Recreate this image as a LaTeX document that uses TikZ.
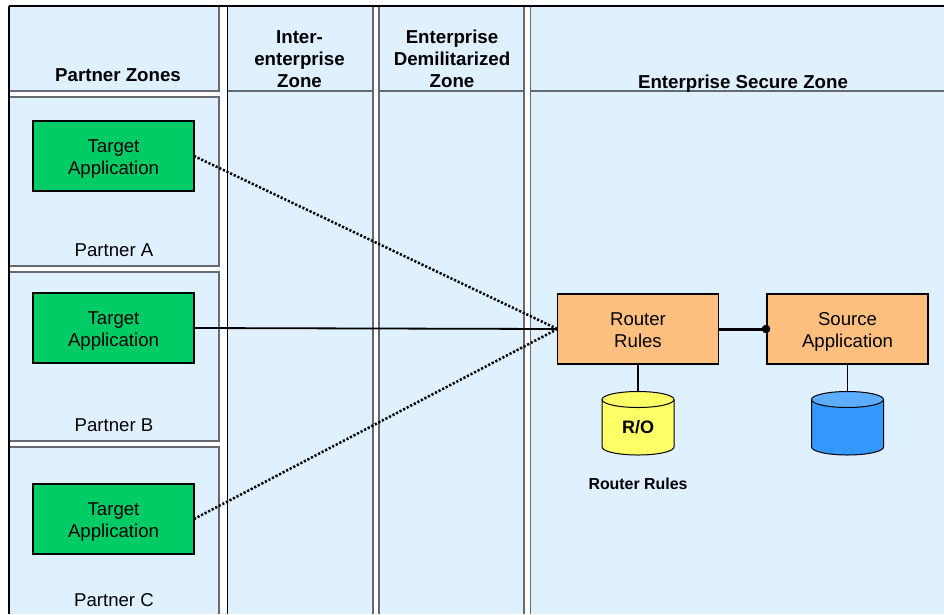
\documentclass[tikz,border=0pt]{standalone}
\usepackage{fontspec}
\setmainfont{Liberation Sans}
\definecolor{zonefill}{HTML}{DFF0FF}
\definecolor{greenbox}{HTML}{00CC66}
\definecolor{orangebox}{HTML}{FFBF7F}
\definecolor{yellowdb}{HTML}{FFFF66}
\definecolor{bluedb}{HTML}{3399FF}
\definecolor{bluetop}{HTML}{5CADFF}
\definecolor{edgegrey}{HTML}{666A70}
\newcommand{\dbdrum}[3]{%
  \fill[#2] (#1-36,399.5) -- (#1-36,447) arc[start angle=180,end angle=0,x radius=36,y radius=8] -- (#1+36,399.5) -- cycle;
  \draw[drumedge] (#1-36,399.5) -- (#1-36,447) arc[start angle=180,end angle=0,x radius=36,y radius=8] -- (#1+36,399.5);
  \draw[drumedge,fill=#3] (#1,399.5) ellipse[x radius=36,y radius=8];
}
\newcommand{\twolines}[2]{\rule{0pt}{19pt}#1\\#2\rule[-5pt]{0pt}{5pt}}
\tikzset{
  x=1pt,y=-1pt,
  zone/.style={fill=zonefill,draw=none},
  blackedge/.style={draw=black,line width=1.3pt},
  greyedge/.style={draw=edgegrey,line width=1.4pt},
  appbox/.style={draw=black,line width=1.9pt,minimum width=161pt,minimum height=70pt,align=center,font=\fontsize{18.6}{22}\selectfont,inner sep=0pt,outer sep=0pt},
  greenapp/.style={appbox,fill=greenbox},
  orangeapp/.style={appbox,fill=orangebox},
  heading/.style={font=\fontsize{18.7}{22}\selectfont\bfseries,align=center,inner sep=0pt},
  partner/.style={font=\fontsize{18.6}{22}\selectfont,inner sep=0pt},
  drumedge/.style={draw=black,line width=1pt},
  dbase/.style={minimum width=72pt,minimum height=64pt,inner sep=0pt,outer sep=0pt},
  link/.style={draw=black,line width=1.8pt},
  dottedlink/.style={draw=black,line width=2.5pt,dash pattern=on 2.2pt off 1.8pt},
}
\begin{document}
\begin{tikzpicture}
\useasboundingbox (0,0) rectangle (944,614);
\clip (0,0) rectangle (944,614);
% zone panels
\fill[zone] (9,6) rectangle (219,91);
\fill[zone] (9,97) rectangle (219,266);
\fill[zone] (9,272) rectangle (219,441);
\fill[zone] (9,447) rectangle (219,614);
\fill[zone] (227.5,6) rectangle (373,614);
\fill[zone] (379,6) rectangle (524,614);
\fill[zone] (530.5,6) rectangle (944,614);
% panel edges
\draw[greyedge] (9,91) -- (219,91) -- (219,6);
\draw[greyedge] (9,97) -- (219,97) -- (219,266) -- (9,266);
\draw[greyedge] (9,272) -- (219,272) -- (219,441) -- (9,441);
\draw[greyedge] (9,447) -- (219,447) -- (219,614);
\draw[greyedge] (373,6) -- (373,614);
\draw[greyedge] (379,6) -- (379,614);
\draw[greyedge] (524,6) -- (524,614);
\draw[greyedge] (530.5,6) -- (530.5,614);
\draw[greyedge,line width=1.1pt] (227.5,91) -- (373,91);
\draw[greyedge,line width=1.1pt] (379,91) -- (524,91);
\draw[greyedge,line width=1.1pt] (530.5,91) -- (944,91);
\draw[blackedge] (9,6) -- (944,6);
\draw[blackedge] (9,6) -- (9,614);
\draw[blackedge] (227.5,6) -- (227.5,614);
% headings
\node[heading] (hp) at (118,75) {Partner Zones};
\node[heading] (hi) at (299.5,59) {Inter-\\enterprise\\Zone};
\node[heading] (hd) at (452,59) {Enterprise\\Demilitarized\\Zone};
\node[heading] (hs) at (743,84) {Enterprise Secure Zone};
% partner labels
\node[partner] (pa) at (114,250.5) {Partner A};
\node[partner] (pb) at (114,425.5) {Partner B};
\node[partner] (pc) at (114,600.5) {Partner C};
% applications
\node[greenapp] (ta) at (113.5,156) {\twolines{Target}{Application}};
\node[greenapp] (tb) at (113.5,328) {\twolines{Target}{Application}};
\node[greenapp] (tc) at (113.5,519) {\twolines{Target}{Application}};
\node[orangeapp] (rr) at (638,329) {\twolines{Router}{Rules}};
\node[orangeapp] (sa) at (847.5,329) {\twolines{Source}{Application}};
% data stores
\dbdrum{638}{yellowdb}{yellowdb}
\dbdrum{847.5}{bluedb}{bluetop}
\node[dbase,font=\fontsize{18}{22}\selectfont\bfseries,text depth=0pt,yshift=-4pt] (ro) at (638,423) {R/O};
\node[dbase] (bd) at (847.5,423) {};
\node[font=\fontsize{15.9}{18}\selectfont\bfseries,inner sep=0pt] (rl) at (638,483.5) {Router Rules};
% connectors
\coordinate (hub) at (rr.west);
\coordinate (dot) at (766,329);
\draw[dottedlink] (ta.east) -- (hub);
\draw[dottedlink] (tc.east) -- (hub);
\draw[link] (tb.east) -- (hub);
\draw[draw=black,line width=3pt] (rr.east) -- (dot);
\fill[black] (dot) circle (4.3);
\draw[link] (rr.south) -- (638,391.5);
\draw[link] (sa.south) -- (847.5,391.5);
\end{tikzpicture}
\end{document}
